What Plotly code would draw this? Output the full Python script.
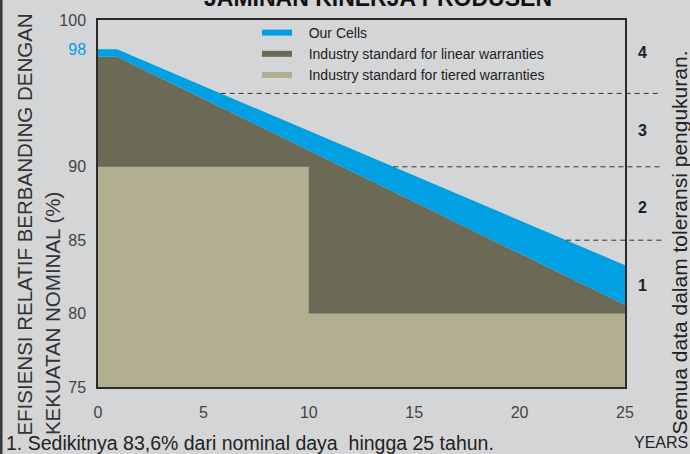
import numpy as np
import plotly.graph_objects as go

# ---- data ----
years_cells = [0, 0.9, 25]
our_cells = [98.0, 98.0, 83.3]
years_linear = [0, 0.9, 25]
linear_warranty = [97.5, 97.5, 80.6]
years_tiered = [0, 10, 10, 25]
tiered_warranty = [90.0, 90.0, 80.0, 80.0]
tolerance_levels = [95, 90, 85]
zone_labels = ["4", "3", "2", "1"]
x_ticks = [0, 5, 10, 15, 20, 25]
y_ticks = [75, 80, 85, 90, 98, 100]

BLUE = "#00a0e3"
DARK = "#6b6a56"
TAN = "#b2ae90"
BG = "#d3d5d7"
FONT = "Liberation Sans, Arial, sans-serif"

fig = go.Figure()
fig.add_trace(go.Scatter(x=years_linear, y=linear_warranty, fill="tozeroy",
                         fillcolor=DARK, mode="lines", line=dict(width=0, color=DARK),
                         showlegend=False, hoverinfo="skip"))
fig.add_trace(go.Scatter(x=years_cells, y=our_cells, fill="tonexty",
                         fillcolor=BLUE, mode="lines", line=dict(width=0, color=BLUE),
                         showlegend=False, hoverinfo="skip"))
fig.add_trace(go.Scatter(x=years_tiered, y=tiered_warranty, fill="tozeroy",
                         fillcolor=TAN, mode="lines", line=dict(width=0, color=TAN),
                         showlegend=False, hoverinfo="skip"))

for name, col in [("Our Cells", BLUE),
                  ("Industry standard for linear warranties", DARK),
                  ("Industry standard for tiered warranties", TAN)]:
    fig.add_trace(go.Scatter(x=[None], y=[None], mode="lines",
                             name="&nbsp;&nbsp;&nbsp;" + name,
                             line=dict(color=col, width=6)))

ticktext = [f"<span style='color:{BLUE}'>{v}</span>" if v == 98 else str(v) for v in y_ticks]

# dashed tolerance lines: from where the blue top edge reaches the level, out past the frame
cells_x = np.array(years_cells)
cells_y = np.array(our_cells)
shapes = []
for lvl in tolerance_levels:
    xs = float(np.interp(lvl, cells_y[::-1], cells_x[::-1]))
    shapes.append(dict(type="line", xref="paper", yref="y", x0=xs / 25.0, x1=1.07,
                       y0=lvl, y1=lvl, line=dict(color="#333333", width=1, dash="5px,4px")))
# thin dark border at the left edge of the image
shapes.append(dict(type="line", xref="paper", yref="paper", x0=-0.184, x1=-0.184,
                   y0=-0.2, y1=1.1, line=dict(color="#3a3a3a", width=3)))

annotations = []
zone_y = [97.8, 92.5, 87.2, 81.9]
for lab, yy in zip(zone_labels, zone_y):
    annotations.append(dict(text=f"<b>{lab}</b>", x=1.02, xref="paper", y=yy, yref="y",
                            showarrow=False, xanchor="left",
                            font=dict(family=FONT, size=16, color="#222222")))
annotations += [
    dict(text="<b>JAMINAN KINERJA PRODUSEN</b>", x=(378 - 98) / 527, xref="paper",
         y=1 + (17 + 5) / 370, yref="paper", showarrow=False, xanchor="center", yanchor="middle",
         font=dict(family=FONT, size=23, color="#111111")),
    dict(text="EFISIENSI RELATIF BERBANDING DENGAN", textangle=-90,
         x=(25 - 98) / 527, xref="paper", y=(387 - 438) / 370, yref="paper",
         xanchor="center", yanchor="bottom", showarrow=False,
         font=dict(family=FONT, size=20.5, color="#333333")),
    dict(text="KEKUATAN NOMINAL (%)", textangle=-90,
         x=(52 - 98) / 527, xref="paper", y=(387 - 438) / 370, yref="paper",
         xanchor="center", yanchor="bottom", showarrow=False,
         font=dict(family=FONT, size=20.5, color="#333333")),
    dict(text="Semua data dalam toleransi pengukuran.", textangle=-90,
         x=(680 - 98) / 527, xref="paper", y=(387 - 437) / 370, yref="paper",
         xanchor="center", yanchor="bottom", showarrow=False,
         font=dict(family=FONT, size=21, color="#222222")),
    dict(text="1. Sedikitnya 83,6% dari nominal daya  hingga 25 tahun.",
         x=(4 - 98) / 527, xref="paper", y=(387 - 443) / 370, yref="paper",
         xanchor="left", yanchor="middle", showarrow=False,
         font=dict(family=FONT, size=19.5, color="#222222")),
    dict(text="YEARS", x=(690 - 98) / 527, xref="paper", y=(387 - 443) / 370, yref="paper",
         xanchor="right", yanchor="middle", showarrow=False,
         font=dict(family=FONT, size=16, color="#222222")),
]

fig.update_layout(
    width=690, height=454,
    margin=dict(l=98, r=65, t=17, b=67),
    paper_bgcolor=BG, plot_bgcolor=BG,
    font=dict(family=FONT, color="#444444"),
    showlegend=True,
    legend=dict(x=(257 - 98) / 527, y=(387 - 14) / 370, xanchor="left", yanchor="top",
                bgcolor="rgba(0,0,0,0)", itemwidth=30, traceorder="normal",
                font=dict(family=FONT, size=14, color="#222222")),
    shapes=shapes,
    annotations=annotations,
)
fig.update_xaxes(range=[0, 25], tickvals=x_ticks, showgrid=False, zeroline=False,
                 showline=True, mirror=True, linecolor="#2b2b2b", linewidth=1.5,
                 ticks="", ticklabelstandoff=10,
                 tickfont=dict(family=FONT, size=16, color="#444444"))
fig.update_yaxes(range=[75, 100], tickvals=y_ticks, ticktext=ticktext, showgrid=False,
                 zeroline=False, showline=True, mirror=True, linecolor="#2b2b2b",
                 linewidth=1.5, ticks="", ticklabelstandoff=7,
                 tickfont=dict(family=FONT, size=16, color="#444444"))

fig.write_html("out.html", config={"displayModeBar": False},
               post_script="document.body.style.margin='0';")
